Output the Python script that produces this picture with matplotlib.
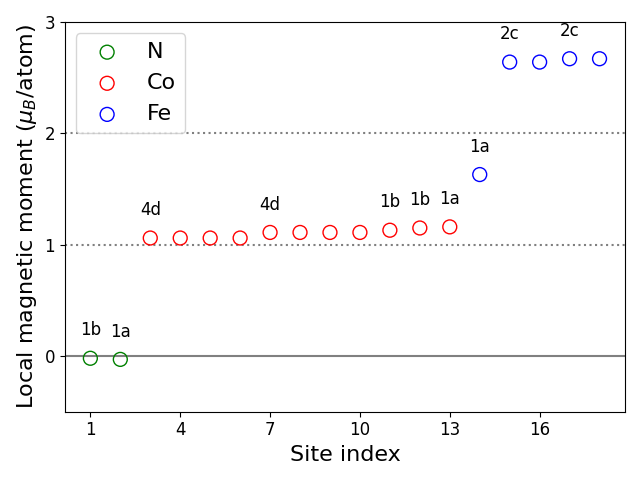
import numpy as np
import matplotlib
matplotlib.use("Agg")
import matplotlib.pyplot as plt

# site index per element
n_sites = [1, 2]
co_sites = [3, 4, 5, 6, 7, 8, 9, 10, 11, 12, 13]
fe_sites = [14, 15, 16, 17, 18]

# local magnetic moments (mu_B/atom)
n_moments = [-0.02, -0.03]
co_moments = [1.06, 1.06, 1.06, 1.06, 1.11, 1.11, 1.11, 1.11, 1.13, 1.15, 1.16]
fe_moments = [1.63, 2.64, 2.64, 2.67, 2.67]

# Wyckoff labels
label_sites = [1, 2, 3, 7, 11, 12, 13, 14, 15, 17]
label_text = ["1b", "1a", "4d", "4d", "1b", "1b", "1a", "1a", "2c", "2c"]

sites = n_sites + co_sites + fe_sites
moments = n_moments + co_moments + fe_moments
moment_of = dict(zip(sites, moments))

fig, ax = plt.subplots(figsize=(6.4, 4.8))
ax.axhline(0, color="gray", lw=1.5, zorder=0)
ax.axhline(1, color="gray", ls=":", lw=1.5, zorder=0)
ax.axhline(2, color="gray", ls=":", lw=1.5, zorder=0)

ax.scatter(n_sites, n_moments, s=100, facecolors="none", edgecolors="green", label="N")
ax.scatter(co_sites, co_moments, s=100, facecolors="none", edgecolors="red", label="Co")
ax.scatter(fe_sites, fe_moments, s=100, facecolors="none", edgecolors="blue", label="Fe")

for s, t in zip(label_sites, label_text):
    ax.text(s, moment_of[s] + 0.25, t, ha="center", va="center", fontsize=12)

ax.set_ylim(-0.5, 3)
ax.set_yticks([0, 1, 2, 3])
ax.set_xticks(np.arange(1, 19, 3))
ax.tick_params(labelsize=12)
ax.set_xlabel("Site index", fontsize=16)
ax.set_ylabel(r"Local magnetic moment ($\mu_B$/atom)", fontsize=16)
ax.legend(loc="upper left", fontsize=16)
fig.tight_layout()
fig.savefig("out.png", dpi=100)
